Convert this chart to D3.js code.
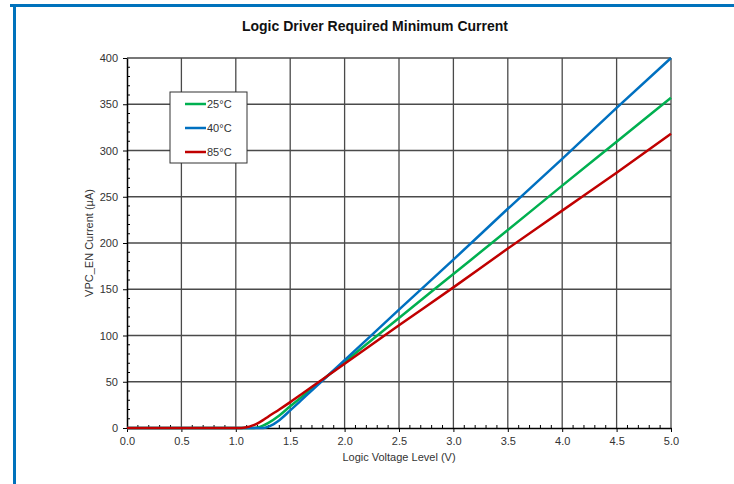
<!DOCTYPE html>
<html>
<head>
<meta charset="utf-8">
<script src="https://cdn.jsdelivr.net/npm/d3@7"></script>
<style>
  body { margin: 0; background: #fff; }
  svg { display: block; font-family: "Liberation Sans", Arial, sans-serif; }
</style>
</head>
<body>
<div class="chart-area"></div>
<script>
// values
var volts = [0, 1.0, 1.05, 1.1, 1.15, 1.2, 1.25, 1.3, 1.4, 1.5, 1.6, 1.7, 1.85, 2.0, 2.5, 3.0, 3.5, 4.0, 4.5, 5.0];
var temp25 = [0, 0, 0, 0, 0, 0.5, 2.5, 5.5, 13.5, 23.5, 33, 42.7, 57, 71.3, 119, 166.5, 214, 262, 309.5, 357];
var temp40 = [0, 0, 0, 0, 0, 0, 0, 1.5, 8.5, 19, 29.8, 40.7, 57, 73.3, 128, 182, 237, 291, 346, 400];
var temp85 = [0, 0, 0, 0.8, 2.5, 5, 8.5, 12.5, 20, 28, 36.3, 44.6, 57, 69.4, 111, 152, 194, 235, 276, 318];
var seriesNames = ["25°C", "40°C", "85°C"];
var seriesColors = ["#00b050", "#0070c0", "#c00000"];
var xTicks = [0, 0.5, 1, 1.5, 2, 2.5, 3, 3.5, 4, 4.5, 5];
var yTicks = [0, 50, 100, 150, 200, 250, 300, 350, 400];

var width = 734, height = 484;
var plotLeft = 127, plotRight = 671, plotTop = 58, plotBottom = 428;

var svg = d3.select(".chart-area")
    .append("svg")
    .attr("width", width)
    .attr("height", height);

// frame of the page
svg.append("rect")
    .attr("x", 10).attr("y", 4)
    .attr("width", 730).attr("height", 3)
    .attr("fill", "#0072bc");
svg.append("rect")
    .attr("x", 13).attr("y", 4)
    .attr("width", 3).attr("height", 490)
    .attr("fill", "#0072bc");

var x = d3.scaleLinear().domain([0, 5]).range([plotLeft, plotRight]);
var y = d3.scaleLinear().domain([0, 400]).range([plotBottom, plotTop]);

// grid
svg.append("g").selectAll("line")
    .data(xTicks.slice(1))
    .join("line")
    .attr("x1", d => x(d)).attr("x2", d => x(d))
    .attr("y1", plotTop).attr("y2", plotBottom)
    .attr("stroke", "#4a4a4a").attr("stroke-width", 1.3);
svg.append("g").selectAll("line")
    .data(yTicks.slice(1))
    .join("line")
    .attr("x1", plotLeft).attr("x2", plotRight)
    .attr("y1", d => y(d)).attr("y2", d => y(d))
    .attr("stroke", "#4a4a4a").attr("stroke-width", 1.3);

// x axis with inward minor ticks
var xAxis = svg.append("g")
    .attr("transform", "translate(0," + plotBottom + ")")
    .call(d3.axisBottom(x).tickValues(xTicks).tickFormat(d3.format(".1f")).tickSize(4).tickSizeOuter(0));
xAxis.select(".domain").attr("stroke", "#000").attr("stroke-width", 1.5);
xAxis.selectAll(".tick line").attr("stroke", "#000");
xAxis.selectAll("text").attr("fill", "#333").attr("font-size", 11).attr("dy", "0.9em");
svg.append("g").selectAll("line")
    .data(d3.range(1, 50).filter(d => d % 5 != 0).map(d => d / 10))
    .join("line")
    .attr("x1", d => x(d)).attr("x2", d => x(d))
    .attr("y1", plotBottom).attr("y2", plotBottom - 3)
    .attr("stroke", "#000");

// y axis with inward minor ticks
var yAxis = svg.append("g")
    .attr("transform", "translate(" + plotLeft + ",0)")
    .call(d3.axisLeft(y).tickValues(yTicks).tickSize(4).tickSizeOuter(0));
yAxis.select(".domain").attr("stroke", "#000").attr("stroke-width", 1.5);
yAxis.selectAll(".tick line").attr("stroke", "#000");
yAxis.selectAll("text").attr("fill", "#333").attr("font-size", 11).attr("x", -9);
svg.append("g").selectAll("line")
    .data(d3.range(10, 400, 10).filter(d => d % 50 != 0))
    .join("line")
    .attr("x1", plotLeft).attr("x2", plotLeft + 3)
    .attr("y1", d => y(d)).attr("y2", d => y(d))
    .attr("stroke", "#000");

// curves
var line = d3.line()
    .x((d, i) => x(volts[i]))
    .y(d => y(d))
    .curve(d3.curveMonotoneX);

[temp25, temp40, temp85].forEach(function(vals, i) {
    svg.append("path")
        .attr("d", line(vals))
        .attr("fill", "none")
        .attr("stroke", seriesColors[i])
        .attr("stroke-width", 2.5);
});

// legend
var legend = svg.append("g").attr("transform", "translate(170,92)");
legend.append("rect")
    .attr("width", 77).attr("height", 71)
    .attr("fill", "#fff").attr("stroke", "#333").attr("stroke-width", 1);
seriesNames.forEach(function(name, i) {
    var ly = 12 + i * 24;
    legend.append("line")
        .attr("x1", 15).attr("x2", 36)
        .attr("y1", ly).attr("y2", ly)
        .attr("stroke", seriesColors[i]).attr("stroke-width", 2.5);
    legend.append("text")
        .attr("x", 37).attr("y", ly + 4)
        .attr("font-size", 11).attr("fill", "#333")
        .text(name);
});

// titles
svg.append("text")
    .attr("x", 375).attr("y", 31)
    .attr("text-anchor", "middle")
    .attr("font-size", 14).attr("font-weight", "bold").attr("fill", "#111")
    .text("Logic Driver Required Minimum Current");
svg.append("text")
    .attr("x", 399).attr("y", 461)
    .attr("text-anchor", "middle")
    .attr("font-size", 11).attr("fill", "#333")
    .text("Logic Voltage Level (V)");
svg.append("text")
    .attr("transform", "translate(93,243) rotate(-90)")
    .attr("text-anchor", "middle")
    .attr("font-size", 11).attr("fill", "#333")
    .text("VPC_EN Current (µA)");
</script>
</body>
</html>
